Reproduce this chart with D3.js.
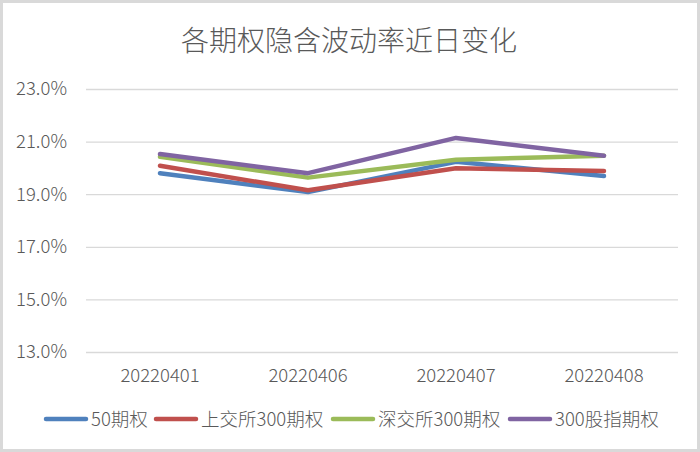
<!DOCTYPE html>
<html>
<head>
<meta charset="utf-8">
<script src="https://cdn.jsdelivr.net/npm/d3@7"></script>
<style>
  body { margin: 0; background: #fff; }
  text { font-family: "Noto Sans CJK SC", "Noto Sans", sans-serif; font-weight: 300; }
</style>
</head>
<body>
<div id="wrapper"></div>
<script>
const dates = ["20220401", "20220406", "20220407", "20220408"];
const seriesNames = ["50期权", "上交所300期权", "深交所300期权", "300股指期权"];
const colors = ["#4F81BD", "#C0504D", "#9BBB59", "#8064A2"];
const opt50 = [19.80, 19.08, 20.23, 19.69];
const sse300 = [20.08, 19.15, 19.99, 19.88];
const szse300 = [20.42, 19.63, 20.31, 20.46];
const idx300 = [20.53, 19.80, 21.14, 20.46];
const yTicks = [13, 15, 17, 19, 21, 23];

function drawChart() {
  const allSeries = [opt50, sse300, szse300, idx300];
  let dimensions = {
    width: 700,
    height: 452,
    margin: { top: 89, left: 86, bottom: 100, right: 22 }
  };
  dimensions.boundedWidth = dimensions.width - dimensions.margin.left - dimensions.margin.right;
  dimensions.boundedHeight = dimensions.height - dimensions.margin.top - dimensions.margin.bottom;

  const svg = d3.select("#wrapper").append("svg")
    .attr("width", dimensions.width)
    .attr("height", dimensions.height);

  // chart border
  svg.append("rect")
    .attr("x", 1.5).attr("y", 1.5)
    .attr("width", dimensions.width - 3).attr("height", dimensions.height - 3)
    .attr("fill", "#fff").attr("stroke", "#d9d9d9").attr("stroke-width", 3);

  svg.append("text")
    .attr("x", dimensions.width / 2 - 1).attr("y", 51)
    .attr("text-anchor", "middle")
    .attr("font-size", 28)
    .attr("fill", "#595959")
    .text("各期权隐含波动率近日变化");

  const container = svg.append("g")
    .attr("transform", `translate(${dimensions.margin.left},${dimensions.margin.top})`);

  const xScale = d3.scaleBand()
    .domain(dates)
    .range([0, dimensions.boundedWidth]);

  const yScale = d3.scaleLinear()
    .domain([13, 23])
    .range([dimensions.boundedHeight, 0]);

  const yAxis = container.append("g")
    .call(d3.axisLeft(yScale).tickValues(yTicks)
      .tickSize(-dimensions.boundedWidth)
      .tickPadding(19)
      .tickFormat(d => d.toFixed(1) + "%"));
  yAxis.select(".domain").remove();
  yAxis.selectAll("line").attr("stroke", "#d9d9d9").attr("stroke-width", 1.3);
  yAxis.selectAll("text").attr("fill", "#595959").attr("font-size", 18.5)
    .style("font-family", "'Noto Sans CJK SC', sans-serif").style("font-weight", 300);

  const xAxis = container.append("g")
    .attr("transform", `translate(0,${dimensions.boundedHeight})`)
    .call(d3.axisBottom(xScale).tickSize(0).tickPadding(17));
  xAxis.select(".domain").remove();
  xAxis.selectAll("text").attr("fill", "#595959").attr("font-size", 18.5)
    .style("font-family", "'Noto Sans CJK SC', sans-serif").style("font-weight", 300);

  const lineGen = d3.line()
    .x((d, i) => xScale(dates[i]) + xScale.bandwidth() / 2)
    .y(d => yScale(d));

  allSeries.forEach((s, i) => {
    container.append("path")
      .datum(s)
      .attr("d", lineGen)
      .attr("fill", "none")
      .attr("stroke", colors[i])
      .attr("stroke-width", 4.5)
      .attr("stroke-linecap", "round")
      .attr("stroke-linejoin", "round");
  });

  // legend
  const legendX = [46, 156, 333, 510];
  const legend = svg.append("g").attr("transform", "translate(0,419)");
  seriesNames.forEach((name, i) => {
    const g = legend.append("g").attr("transform", `translate(${legendX[i]},0)`);
    g.append("line")
      .attr("x1", 0).attr("x2", 40)
      .attr("stroke", colors[i]).attr("stroke-width", 4.5)
      .attr("stroke-linecap", "round");
    g.append("text")
      .attr("x", 45).attr("y", 7)
      .attr("font-size", 18.5)
      .attr("fill", "#595959")
      .text(name);
  });
}

drawChart();
</script>
</body>
</html>
